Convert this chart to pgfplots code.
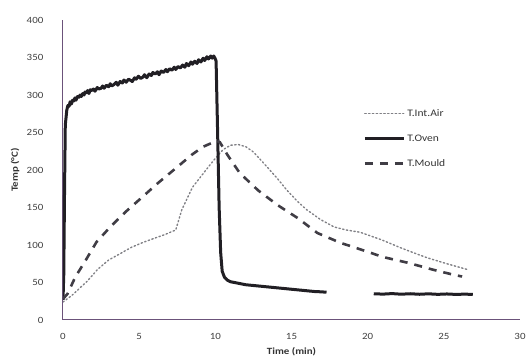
\documentclass[border=0pt]{standalone}
\usepackage{fontspec}
\setmainfont{Carlito}[FakeStretch=1.15]
\usepackage{pgfplots}
\pgfplotsset{compat=1.18}
\definecolor{axcol}{rgb}{0.42,0.32,0.48}
\definecolor{ovencol}{rgb}{0.13,0.12,0.14}
\definecolor{mouldcol}{rgb}{0.25,0.24,0.27}
\definecolor{aircol}{rgb}{0.5,0.5,0.52}
\begin{document}
\begin{tikzpicture}
\useasboundingbox (-63pt,-38pt) rectangle (465pt,320pt);
\begin{axis}[
  scale only axis,
  width=457pt, height=300pt,
  xmin=0, xmax=30, ymin=0, ymax=400,
  axis x line=bottom, axis y line=left,
  axis line style={-, axcol, line width=1pt},
  xtick={0,5,...,30}, ytick={0,50,...,400},
  tick style={draw=none},
  /pgf/number format/assume math mode=true,
  tick label style={font=\fontsize{9.5}{10}\selectfont, text=black!75},
  yticklabel style={anchor=east, xshift=-14pt},
  xticklabel style={yshift=-8pt},
  xlabel={\bfseries Time (min)},
  ylabel={\bfseries Temp (°C)},
  label style={font=\fontsize{9.5}{10}\selectfont, text=black!80},
  xlabel style={at={(axis description cs:0.5,-0.107)}, anchor=center},
  ylabel style={at={(axis description cs:-0.105,0.5)}, anchor=center},
  legend style={draw=none, fill=none, at={(axis cs:19.7,284)}, anchor=north west,
    font=\fontsize{10}{11}\selectfont, row sep=13pt, inner sep=0pt, text=black!80},
  legend cell align=left,
  legend image code/.code={\draw[#1] (0pt,0pt) -- (39pt,0pt);},
]
% T.Int.Air
\addplot[aircol, line width=1.4pt, dash pattern=on 1.4pt off 2.4pt, line cap=round] coordinates {
(0,24) (0.6,33) (1.6,52) (2.3,68) (3,80) (3.8,89) (4.5,97) (5.2,103) (6,109) (6.7,114) (7.4,120)
(7.8,147) (8.5,177) (9,190) (9.5,203) (9.9,213) (10.5,227) (11,233) (11.5,234) (12,231) (12.5,224)
(13.4,204) (14.1,188) (14.7,173) (15.4,158) (16,147) (16.9,134) (17.8,124) (18.6,120) (19.5,117)
(20.2,112) (20.9,107) (22.2,96) (23.1,89) (23.9,83) (25.2,75) (26.6,67)
};
\addlegendentry{T.Int.Air}
% T.Oven
\addplot[ovencol, line width=3pt, line join=round] coordinates {
(0,27) (0.05,60) (0.1,170) (0.15,260) (0.25,280) (0.32,286) (0.4,285) (0.47,291) (0.55,288) (0.63,293)
(0.7,292) (0.78,296) (0.85,293) (0.95,298) (1.05,297) (1.12,300) (1.2,298) (1.3,302) (1.38,300) (1.45,304)
(1.55,303) (1.62,306) (1.7,302) (1.8,307) (1.9,306) (2.0,308) (2.1,305) (2.25,310) (2.35,308) (2.5,309)
(2.6,312) (2.7,309) (2.85,313) (3.0,311) (3.1,315) (3.2,312) (3.35,314) (3.5,317) (3.6,313) (3.75,318)
(3.9,316) (4.0,320) (4.15,317) (4.3,321) (4.4,320) (4.55,318) (4.7,323) (4.8,321) (4.95,325) (5.1,322)
(5.25,324) (5.35,327) (5.5,323) (5.65,328) (5.8,326) (5.9,330) (6.05,328) (6.2,331) (6.3,327) (6.45,332)
(6.6,330) (6.75,334) (6.85,331) (7.0,335) (7.15,333) (7.3,337) (7.4,334) (7.55,338) (7.7,336) (7.85,340)
(8.0,337) (8.1,342) (8.25,339) (8.4,344) (8.5,341) (8.65,345) (8.8,342) (8.9,347) (9.05,344) (9.2,349)
(9.3,346) (9.45,351) (9.55,348) (9.7,352) (9.8,349) (9.9,352) (10.0,348) (10.05,345) (10.15,250) (10.25,150) (10.35,90) (10.45,65)
(10.6,57) (10.8,53) (11,51) (11.5,49) (12,47) (12.5,46) (13,45) (13.5,44) (14,43) (14.5,42)
(15,41) (15.5,40) (16,39) (16.5,38) (17,37.5) (17.3,37)
};
\addlegendentry{T.Oven}
% T.Mould
\addplot[mouldcol, line width=2.6pt, dash pattern=on 8pt off 7pt] coordinates {
(0,28) (0.3,35) (0.8,57) (1.5,80) (2.2,104) (3.1,124) (4.1,144) (5.1,162) (6.2,182) (7.5,204)
(8.5,221) (9.2,231) (10.1,239) (10.3,237) (10.8,220) (11.6,196) (12.8,173) (14.1,153) (15.4,136)
(16.7,116) (18.2,103) (19.7,93) (21,84) (22.7,76) (24.3,67) (25.7,60) (26.2,58)
};
\addlegendentry{T.Mould}
% T.Oven second segment
\addplot[ovencol, line width=3pt, forget plot] coordinates {
(20.4,35) (21,34.5) (21.6,35.2) (22.2,34.4) (22.8,35) (23.4,34.3) (24,34.9) (24.6,34.2) (25.2,34.7)
(25.8,34.1) (26.4,34.5) (26.9,34)
};
\end{axis}
\end{tikzpicture}
\end{document}
